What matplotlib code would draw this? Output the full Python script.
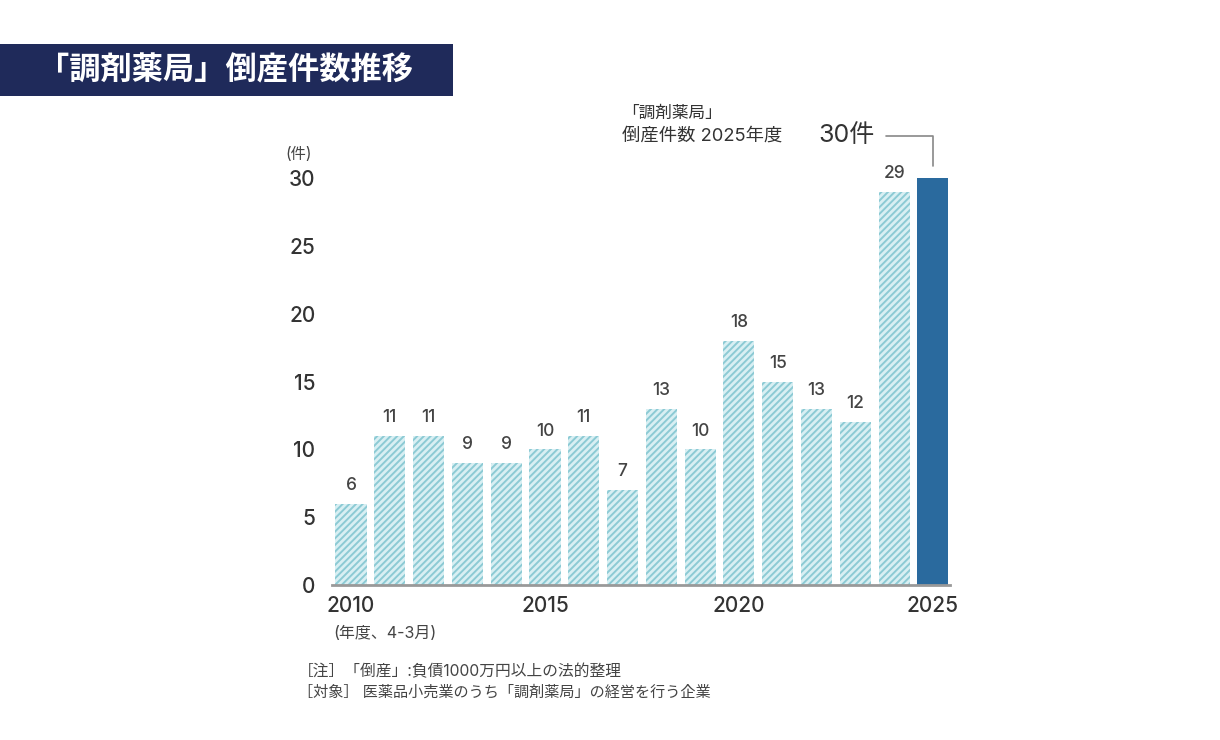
import matplotlib
matplotlib.use("Agg")
import matplotlib.pyplot as plt
from matplotlib.patches import Rectangle

plt.rcParams['font.family'] = ['Inter', 'Noto Sans CJK JP', 'DejaVu Sans']
plt.rcParams['hatch.linewidth'] = 1.4

# データ
years = list(range(2010, 2026))
counts = [6, 11, 11, 9, 9, 10, 11, 7, 13, 10, 18, 15, 13, 12, 29, 30]
xticks = [2010, 2015, 2020, 2025]
yticks = [0, 5, 10, 15, 20, 25, 30]

title = "「調剤薬局」倒産件数推移"
note1 = "［注］「倒産」:負債1000万円以上の法的整理"
note2 = "［対象］ 医薬品小売業のうち「調剤薬局」の経営を行う企業"

fig = plt.figure(figsize=(12.2, 7.4), dpi=100)
fig.patch.set_facecolor('white')

# タイトル帯
fig.patches.append(Rectangle((0, 1 - 96 / 740), 453 / 1220, 52 / 740,
                             transform=fig.transFigure, facecolor='#1f2a5a',
                             edgecolor='none'))
fig.text(38 / 1220, 1 - 70 / 740, title, color='white', fontsize=22.5,
         fontweight='bold', va='center', ha='left',
         family=['Noto Sans CJK JP'])

ax = fig.add_axes([332 / 1220, 155 / 740, 618 / 1220, 407 / 740])

for yr, c in zip(years[:-1], counts[:-1]):
    ax.bar(yr, c, width=0.8, facecolor='#d8eff3', edgecolor='#8ccad4',
           hatch='/////', linewidth=0)
ax.bar(years[-1], counts[-1], width=0.8, color='#2a6a9e', linewidth=0)

for yr, c in zip(years[:-1], counts[:-1]):
    ax.annotate(str(c), (yr, c), xytext=(0, 7), textcoords='offset points',
                ha='center', va='bottom', fontsize=12.5, color='#444444',
                fontweight='medium')

ax.set_xlim(2009.51, 2025.44)
ax.set_ylim(0, 30)
ax.set_xticks(xticks)
ax.set_yticks(yticks)
ax.tick_params(axis='both', length=0, labelsize=15, labelcolor='#333333')
ax.tick_params(axis='y', pad=12)
ax.tick_params(axis='x', pad=8)
for lab in ax.get_xticklabels() + ax.get_yticklabels():
    lab.set_fontweight('medium')
for s in ['top', 'right', 'left']:
    ax.spines[s].set_visible(False)
ax.spines['bottom'].set_color('#999999')
ax.spines['bottom'].set_linewidth(2)

# 軸ラベル
fig.text(299 / 1220, 1 - 154 / 740, "(件)", fontsize=11, color='#444444',
         ha='center', va='center')
fig.text(333 / 1220, 1 - 633 / 740, "(年度、4-3月)", fontsize=11.5,
         color='#444444', ha='left', va='center')

# 注記
fig.text(298 / 1220, 1 - 672 / 740, note1, fontsize=11.3, color='#444444',
         ha='left', va='center')
fig.text(298 / 1220, 1 - 692 / 740, note2, fontsize=10.9, color='#444444',
         ha='left', va='center')

# 2025年度の注釈
fig.text(622 / 1220, 1 - 113 / 740, "「調剤薬局」", fontsize=12,
         color='#333333', ha='left', va='center')
fig.text(622 / 1220, 1 - 136 / 740, "倒産件数 2025年度", fontsize=13.2,
         color='#333333', ha='left', va='center')
fig.text(818 / 1220, 1 - 135 / 740, "30件", fontsize=18,
         color='#333333', ha='left', va='center')
ax.annotate("", xy=(years[-1], counts[-1] + 0.9), xycoords='data',
            xytext=(886 / 1220, 1 - 136 / 740), textcoords='figure fraction',
            annotation_clip=False,
            arrowprops=dict(arrowstyle='-', color='#888888', lw=1.2,
                            shrinkA=0, shrinkB=0,
                            connectionstyle='angle,angleA=0,angleB=90,rad=0'))

fig.savefig('out.png', dpi=100)
